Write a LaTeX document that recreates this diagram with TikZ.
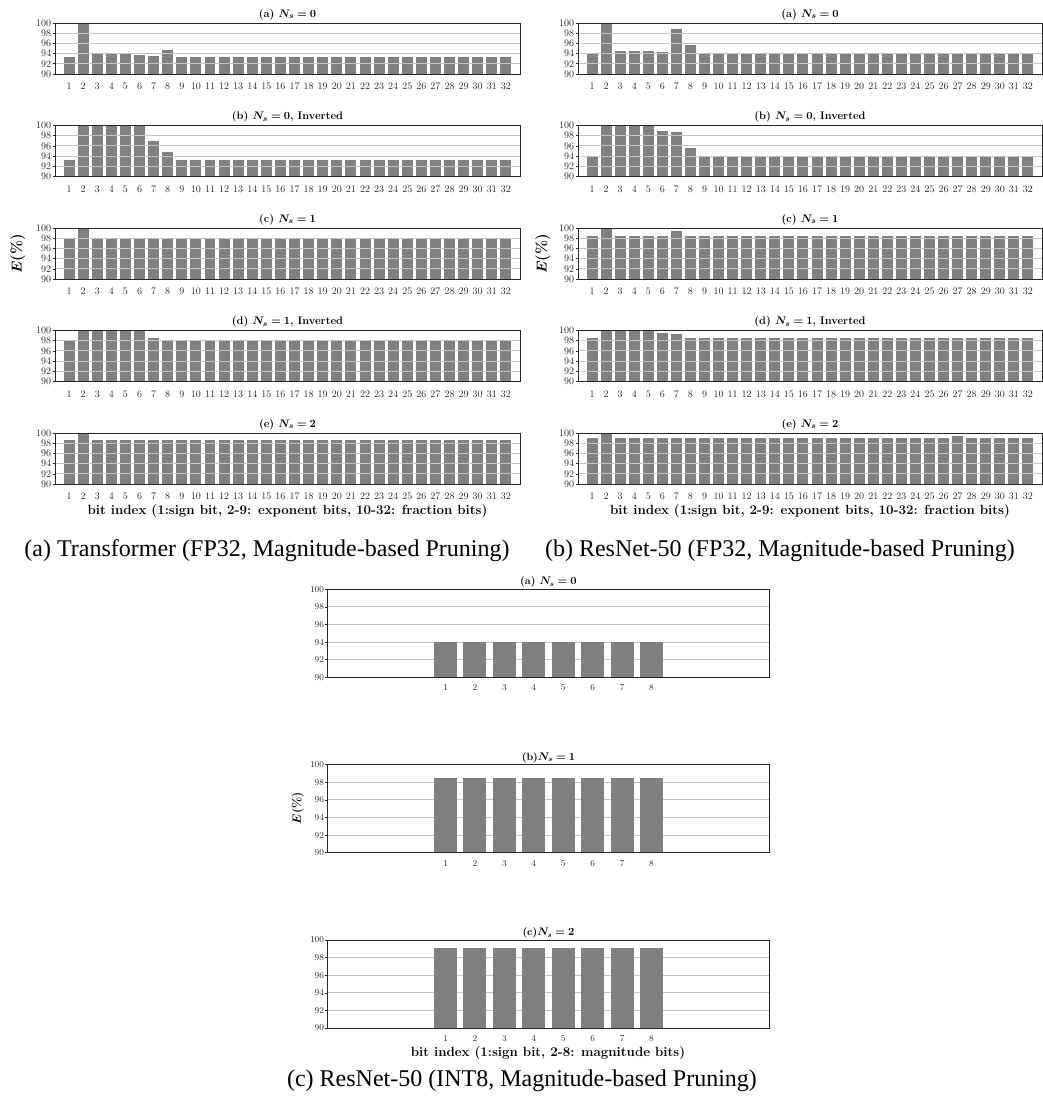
\documentclass[tikz,border=0pt]{standalone}
\usepackage{fontspec}
\usepackage{bm}
\newfontfamily\capfont{Liberation Serif}
\definecolor{barc}{RGB}{128,128,128}
\definecolor{gridc}{RGB}{195,195,195}
\tikzset{
  gridline/.style={draw=gridc, line width=0.9pt},
  axisbox/.style={draw=black!85, line width=0.9pt},
  tickmark/.style={draw=black!85, line width=0.6pt},
  ticklab/.style={font=\fontsize{10}{10}\selectfont, inner sep=0pt, text=black!85},
  smalltick/.style={font=\fontsize{9}{9}\selectfont, inner sep=0pt, text=black!85},
  paneltitle/.style={font=\fontsize{11}{11}\selectfont\bfseries, inner sep=0pt},
  smalltitle/.style={font=\fontsize{10.5}{10.5}\selectfont\bfseries, inner sep=0pt},
  axlabel/.style={font=\fontsize{13.3}{13.3}\selectfont\bfseries, inner sep=0pt},
  ylab/.style={font=\fontsize{15}{15}\selectfont\bfseries, inner sep=0pt, rotate=90},
  caption/.style={font=\fontsize{24}{24}\selectfont\capfont, inner sep=0pt, anchor=base},
}
% FP32 panel: #1 x0, #2 ytop, #3 width, #4 base value, #5 overrides k/v, #6 title
\newcommand{\fppanel}[6]{%
\begin{scope}[shift={(#1,#2)}]
  \pgfmathsetmacro{\pu}{#3/33}
  \foreach \i in {1,...,32}{%
    \xdef\bv{#4}%
    \foreach \k/\w in {#5}{\ifnum\k=\i\relax\xdef\bv{\w}\fi}%
    \fill[barc] ({(\i-0.39)*\pu},51) rectangle ({(\i+0.39)*\pu},{51-(\bv-90)*5.1});
  }
  \foreach \g in {92,94,96,98}{\draw[gridline] (0,{51-(\g-90)*5.1}) -- (#3,{51-(\g-90)*5.1});}
  \draw[axisbox] (0,0) rectangle (#3,51);
  \foreach \g in {90,92,...,100}{\draw[tickmark] (0,{51-(\g-90)*5.1}) -- ++(-2.5,0) node[left, ticklab, xshift=-1pt] {\g};}
  \foreach \i in {1,...,32}{\node[ticklab] at ({\i*\pu},63.5) {\i};}
  \node[paneltitle] at ({#3/2},-8.5) {#6};
\end{scope}}
% INT8 panel: #1 ytop, #2 value, #3 title
\newcommand{\intpanel}[3]{%
\begin{scope}[shift={(327.7,#1)}]
  \pgfmathsetmacro{\pu}{441.6/15}
  \foreach \g in {92,94,96,98}{\draw[gridline] (0,{88-(\g-90)*8.8}) -- (441.6,{88-(\g-90)*8.8});}
  \foreach \i in {1,...,8}{%
    \fill[barc] ({(\i+3-0.39)*\pu},88) rectangle ({(\i+3+0.39)*\pu},{88-(#2-90)*8.8});
    \node[smalltick] at ({(\i+3)*\pu},98.5) {\i};
  }
  \draw[axisbox] (0,0) rectangle (441.6,88);
  \foreach \g in {90,92,...,100}{\draw[tickmark] (0,{88-(\g-90)*8.8}) -- ++(-2.5,0) node[left, smalltick, xshift=-1pt] {\g};}
  \node[smalltitle] at (220.8,-7) {#3};
\end{scope}}

\begin{document}
\begin{tikzpicture}[x=1pt,y=-1pt]
\useasboundingbox (0,0) rectangle (1042,1108);
% ---------- Left column: Transformer ----------
\fppanel{55}{23}{465}{93.3}{2/100,3/94.0,4/94.0,5/94.0,6/93.8,7/93.6,8/94.7}{(a) $\bm{N_s=0}$}
\fppanel{55}{125.5}{465}{93.3}{2/100,3/100,4/100,5/100,6/100,7/97.0,8/94.8}{(b) $\bm{N_s=0}$, Inverted}
\fppanel{55}{228}{465}{98.0}{2/100}{(c) $\bm{N_s=1}$}
\fppanel{55}{330.5}{465}{98.0}{2/100,3/100,4/100,5/100,6/100,7/98.6}{(d) $\bm{N_s=1}$, Inverted}
\fppanel{55}{433}{465}{98.7}{2/100}{(e) $\bm{N_s=2}$}
\node[ylab] (yl1) at (18,254) {$\bm{E}$(\%)};
\node[axlabel] (xl1) at (287.5,511) {bit index (1:sign bit, 2-9: exponent bits, 10-32: fraction bits)};
\node[caption] (cap1) at (267,556) {(a) Transformer (FP32, Magnitude-based Pruning)};
% ---------- Right column: ResNet-50 FP32 ----------
\fppanel{578}{23}{464}{94.0}{2/100,3/94.5,4/94.5,5/94.5,6/94.3,7/98.8,8/95.6}{(a) $\bm{N_s=0}$}
\fppanel{578}{125.5}{464}{94.0}{2/100,3/100,4/100,5/100,6/98.9,7/98.7,8/95.6}{(b) $\bm{N_s=0}$, Inverted}
\fppanel{578}{228}{464}{98.5}{2/100,7/99.5}{(c) $\bm{N_s=1}$}
\fppanel{578}{330.5}{464}{98.6}{2/100,3/100,4/100,5/100,6/99.6,7/99.4}{(d) $\bm{N_s=1}$, Inverted}
\fppanel{578}{433}{464}{99.1}{2/100,27/99.5}{(e) $\bm{N_s=2}$}
\node[ylab] (yl2) at (543,254) {$\bm{E}$(\%)};
\node[axlabel] (xl2) at (810,511) {bit index (1:sign bit, 2-9: exponent bits, 10-32: fraction bits)};
\node[caption] (cap2) at (780,556) {(b) ResNet-50 (FP32, Magnitude-based Pruning)};
% ---------- Bottom: ResNet-50 INT8 ----------
\intpanel{589.3}{94.0}{(a) $\bm{N_s=0}$}
\intpanel{764.7}{98.5}{(b)$\bm{N_s=1}$}
\intpanel{940}{99.1}{(c)$\bm{N_s=2}$}
\node[ylab, font=\fontsize{12}{12}\selectfont\bfseries] (yl3) at (298,808) {$\bm{E}$(\%)};
\node[axlabel] (xl3) at (548,1052.7) {bit index (1:sign bit, 2-8: magnitude bits)};
\node[caption] (cap3) at (522,1086) {(c) ResNet-50 (INT8, Magnitude-based Pruning)};
\end{tikzpicture}
\end{document}
